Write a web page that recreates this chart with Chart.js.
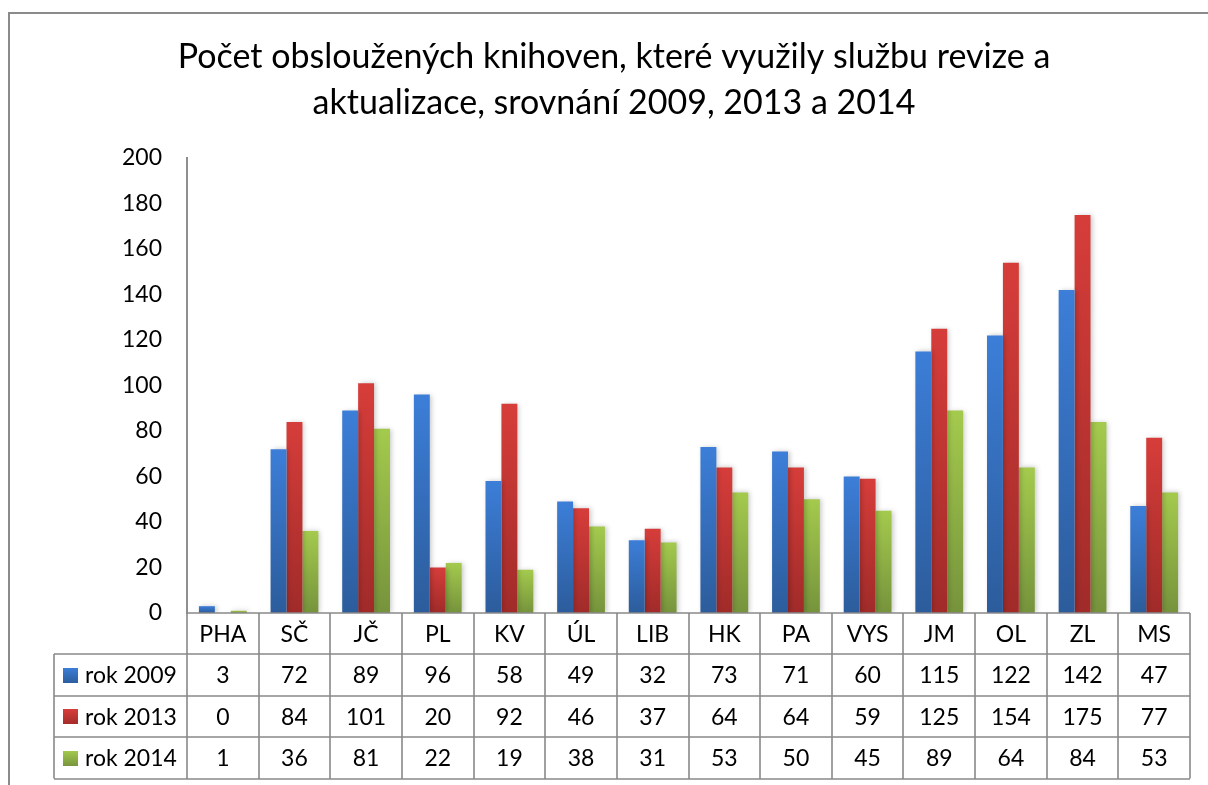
<!DOCTYPE html>
<html>
<head>
<meta charset="utf-8">
<script src="https://cdn.jsdelivr.net/npm/chart.js@4/dist/chart.umd.min.js"></script>
<style>
html,body{margin:0;padding:0;background:#fff;}
#wrap{width:1208px;height:785px;}
</style>
</head>
<body>
<div id="wrap"><canvas id="c" width="1208" height="785"></canvas></div>
<script>
const titleLines = ['Počet obsloužených knihoven, které využily službu revize a', 'aktualizace, srovnání 2009, 2013 a 2014'];
const categories = ['PHA','SČ','JČ','PL','KV','ÚL','LIB','HK','PA','VYS','JM','OL','ZL','MS'];
const seriesNames = ['rok 2009','rok 2013','rok 2014'];
const rok2009 = [3,72,89,96,58,49,32,73,71,60,115,122,142,47];
const rok2013 = [0,84,101,20,92,46,37,64,64,59,125,154,175,77];
const rok2014 = [1,36,81,22,19,38,31,53,50,45,89,64,84,53];
const yMin = 0, yMax = 200, yStep = 20;

const FONT = 'Lato, "Open Sans", sans-serif';
const LINE = '#898989';
const colorTop = ['#3c7ed8', '#d63d3a', '#a4ca4d'];
const colorBottom = ['#2c5c9b', '#a02b29', '#76933c'];

function barGradient(i) {
  return function (ctx) {
    const chart = ctx.chart;
    if (!chart.chartArea || ctx.type !== 'data') return colorTop[i];
    const ys = chart.scales.y;
    const y0 = ys.getPixelForValue(ctx.raw);
    const y1 = ys.getPixelForValue(0);
    if (y1 - y0 < 1) return colorTop[i];
    const g = chart.ctx.createLinearGradient(0, y0, 0, y1);
    g.addColorStop(0, colorTop[i]);
    g.addColorStop(1, colorBottom[i]);
    return g;
  };
}

const seriesData = [rok2009, rok2013, rok2014];

const frame = {
  id: 'frame',
  beforeDraw(chart) {
    const c = chart.ctx;
    c.save();
    c.fillStyle = '#fff';
    c.fillRect(0, 0, chart.width, chart.height);
    c.strokeStyle = '#8a8a8a';
    c.lineWidth = 2;
    c.strokeRect(9, 13, chart.width + 10, chart.height + 10);
    // title
    c.fillStyle = '#000';
    c.font = '34px ' + FONT;
    c.textAlign = 'center';
    c.textBaseline = 'alphabetic';
    c.fillText(titleLines[0], 614, 68);
    c.fillText(titleLines[1], 614, 114);
    c.restore();
  }
};

const shadow = {
  id: 'shadow',
  beforeDatasetsDraw(chart) {
    const c = chart.ctx;
    c.save();
    c.shadowColor = 'rgba(0,0,0,0.22)';
    c.shadowBlur = 5;
    c.shadowOffsetX = 2;
    c.shadowOffsetY = 0;
  },
  afterDatasetsDraw(chart) {
    chart.ctx.restore();
  }
};

const table = {
  id: 'dataTable',
  afterDraw(chart) {
    const c = chart.ctx;
    const xs = chart.scales.x;
    const area = chart.chartArea;
    const n = categories.length;
    const half = (xs.right - xs.left) / n / 2;
    const top = area.bottom;
    const headerH = 41;
    const rowH = 41.5;
    const tblLeft = 54;
    const rowsTop = top + headerH;
    const bottom = rowsTop + rowH * seriesNames.length;
    c.save();
    c.strokeStyle = LINE;
    c.lineWidth = 1.6;
    c.beginPath();
    for (let i = 0; i <= n; i++) {
      const x = Math.round(i < n ? xs.getPixelForValue(i) - half : xs.getPixelForValue(n - 1) + half);
      c.moveTo(x, top);
      c.lineTo(x, bottom);
    }
    c.moveTo(tblLeft, rowsTop);
    c.lineTo(tblLeft, bottom);
    c.moveTo(xs.left, top);
    c.lineTo(xs.right, top);
    for (let r = 0; r <= seriesNames.length; r++) {
      const y = Math.round(rowsTop + r * rowH);
      c.moveTo(tblLeft, y);
      c.lineTo(xs.right, y);
    }
    c.stroke();

    c.fillStyle = '#000';
    c.font = '23px ' + FONT;
    c.textAlign = 'center';
    c.textBaseline = 'middle';
    categories.forEach((cat, i) => {
      c.fillText(cat, xs.getPixelForValue(i), top + headerH / 2 + 1);
    });
    seriesNames.forEach((name, r) => {
      const yc = rowsTop + rowH * r + rowH / 2 + 1;
      seriesData[r].forEach((v, i) => {
        c.fillText(String(v), xs.getPixelForValue(i), yc);
      });
      const g = c.createLinearGradient(0, yc - 8, 0, yc + 8);
      g.addColorStop(0, colorTop[r]);
      g.addColorStop(1, colorBottom[r]);
      c.fillStyle = g;
      c.fillRect(63, Math.round(yc - 8), 15, 15);
      c.fillStyle = '#000';
      c.textAlign = 'left';
      c.fillText(name, 85, yc);
      c.textAlign = 'center';
    });
    c.restore();
  }
};

new Chart(document.getElementById('c'), {
  type: 'bar',
  data: {
    labels: categories,
    datasets: seriesNames.map((name, i) => ({
      label: name,
      data: seriesData[i],
      backgroundColor: barGradient(i),
      borderWidth: 0,
      categoryPercentage: 0.667,
      barPercentage: 1.0
    }))
  },
  options: {
    responsive: false,
    devicePixelRatio: 1,
    animation: false,
    layout: { padding: { left: 0, right: 18, top: 158, bottom: 172 } },
    plugins: {
      legend: { display: false },
      tooltip: { enabled: false },
      title: { display: false }
    },
    scales: {
      x: {
        grid: { display: false, drawTicks: false },
        border: { display: false },
        ticks: { display: false }
      },
      y: {
        min: yMin,
        max: yMax,
        ticks: {
          stepSize: yStep,
          color: '#000',
          font: { family: FONT, size: 23 },
          padding: 25
        },
        grid: { display: false, drawTicks: false },
        border: { display: true, color: '#8e8e8e', width: 2 },
        afterFit(scale) { scale.width = 187; }
      }
    }
  },
  plugins: [frame, shadow, table]
});
</script>
</body>
</html>
